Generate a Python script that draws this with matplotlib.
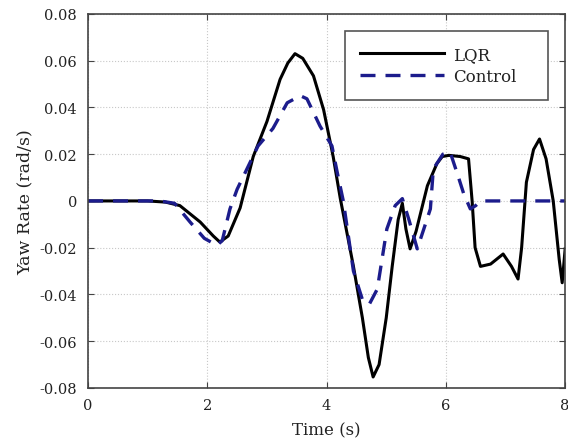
import numpy as np
import matplotlib
matplotlib.use("Agg")
import matplotlib.pyplot as plt

# Data
t_lqr = [0, 1.0, 1.3, 1.54, 1.88, 2.1, 2.21, 2.35, 2.55, 2.77, 3.0, 3.22, 3.35, 3.47,
         3.6, 3.78, 3.95, 4.11, 4.23, 4.45, 4.6, 4.7, 4.78, 4.88, 5.0, 5.1, 5.2, 5.27,
         5.33, 5.40, 5.5, 5.69, 5.85, 5.94, 6.05, 6.24, 6.38, 6.44, 6.49, 6.58, 6.75,
         6.96, 7.1, 7.21, 7.27, 7.35, 7.47, 7.57, 7.68, 7.8, 7.9, 7.95, 8.0]
yaw_lqr = [0, 0, -0.0005, -0.002, -0.009, -0.015, -0.0176, -0.015, -0.003, 0.019, 0.034,
           0.052, 0.059, 0.063, 0.061, 0.0535, 0.039, 0.019, 0.001, -0.028, -0.05, -0.067,
           -0.0753, -0.07, -0.05, -0.028, -0.008, -0.001, -0.012, -0.0205, -0.013, 0.0065,
           0.016, 0.019, 0.0195, 0.019, 0.018, 0.0, -0.02, -0.028, -0.027, -0.0227, -0.028,
           -0.0334, -0.02, 0.008, 0.022, 0.0265, 0.018, 0.0, -0.025, -0.035, -0.0205]

t_ctrl = [0, 1.2, 1.45, 1.71, 1.95, 2.16, 2.25, 2.38, 2.5, 2.85, 3.1, 3.34, 3.56, 3.67,
          3.89, 4.09, 4.18, 4.28, 4.45, 4.61, 4.72, 4.85, 5.01, 5.15, 5.27, 5.38, 5.52,
          5.63, 5.74, 5.79, 5.95, 6.07, 6.2, 6.3, 6.41, 6.5, 6.58, 8.0]
yaw_ctrl = [0, 0, -0.001, -0.009, -0.016, -0.019, -0.017, -0.0034, 0.005, 0.0235, 0.031,
            0.042, 0.045, 0.0437, 0.032, 0.0235, 0.012, 0.0, -0.030, -0.043, -0.044,
            -0.0377, -0.012, -0.002, 0.001, -0.008, -0.0205, -0.012, -0.0034, 0.0137,
            0.020, 0.021, 0.011, 0.003, -0.0034, -0.002, 0.0, 0.0]

x_ticks = [0, 2, 4, 6, 8]
y_ticks = [-0.08, -0.06, -0.04, -0.02, 0, 0.02, 0.04, 0.06, 0.08]
y_labels = ["-0.08", "-0.06", "-0.04", "-0.02", "0", "0.02", "0.04", "0.06", "0.08"]

plt.rcParams['font.family'] = ['DejaVu Serif']

fig = plt.figure(figsize=(5.68, 4.39), dpi=100)
ax = fig.add_axes([0.155, 0.114, 0.840, 0.852])

ax.plot(t_lqr, yaw_lqr, color='black', lw=2.2, label='LQR', solid_joinstyle='round')
ax.plot(t_ctrl, yaw_ctrl, color='#1c1c8c', lw=2.4, linestyle=(0, (4.5, 3)),
        label='Control')

ax.set_xlim(0, 8)
ax.set_ylim(-0.08, 0.08)
ax.set_xticks(x_ticks)
ax.set_yticks(y_ticks)
ax.set_yticklabels(y_labels)
ax.tick_params(direction='in', top=True, right=True, labelsize=10.5, length=4,
               color='#444444', labelcolor='#222222')
ax.tick_params(axis='y', pad=8)
ax.tick_params(axis='x', pad=7)
ax.grid(True, linestyle=':', color='#c8c8c8', lw=0.8)
for s in ax.spines.values():
    s.set_color('#444444')
    s.set_linewidth(1.2)

ax.set_xlabel('Time (s)', fontsize=12, color='#222222', labelpad=7)
ax.set_ylabel('Yaw Rate (rad/s)', fontsize=12.5, color='#222222', labelpad=4)

leg = ax.legend(loc='upper left', bbox_to_anchor=(0.539, 0.955, 0.425, 0.0),
                mode='expand', borderaxespad=0, fontsize=12, handlelength=5.0,
                fancybox=False, framealpha=1, edgecolor='#555555', borderpad=0.9,
                labelspacing=0.3, handletextpad=0.6)
leg.get_frame().set_linewidth(1.2)
for txt in leg.get_texts():
    txt.set_color('#222222')

fig.savefig('out.png', dpi=100)
